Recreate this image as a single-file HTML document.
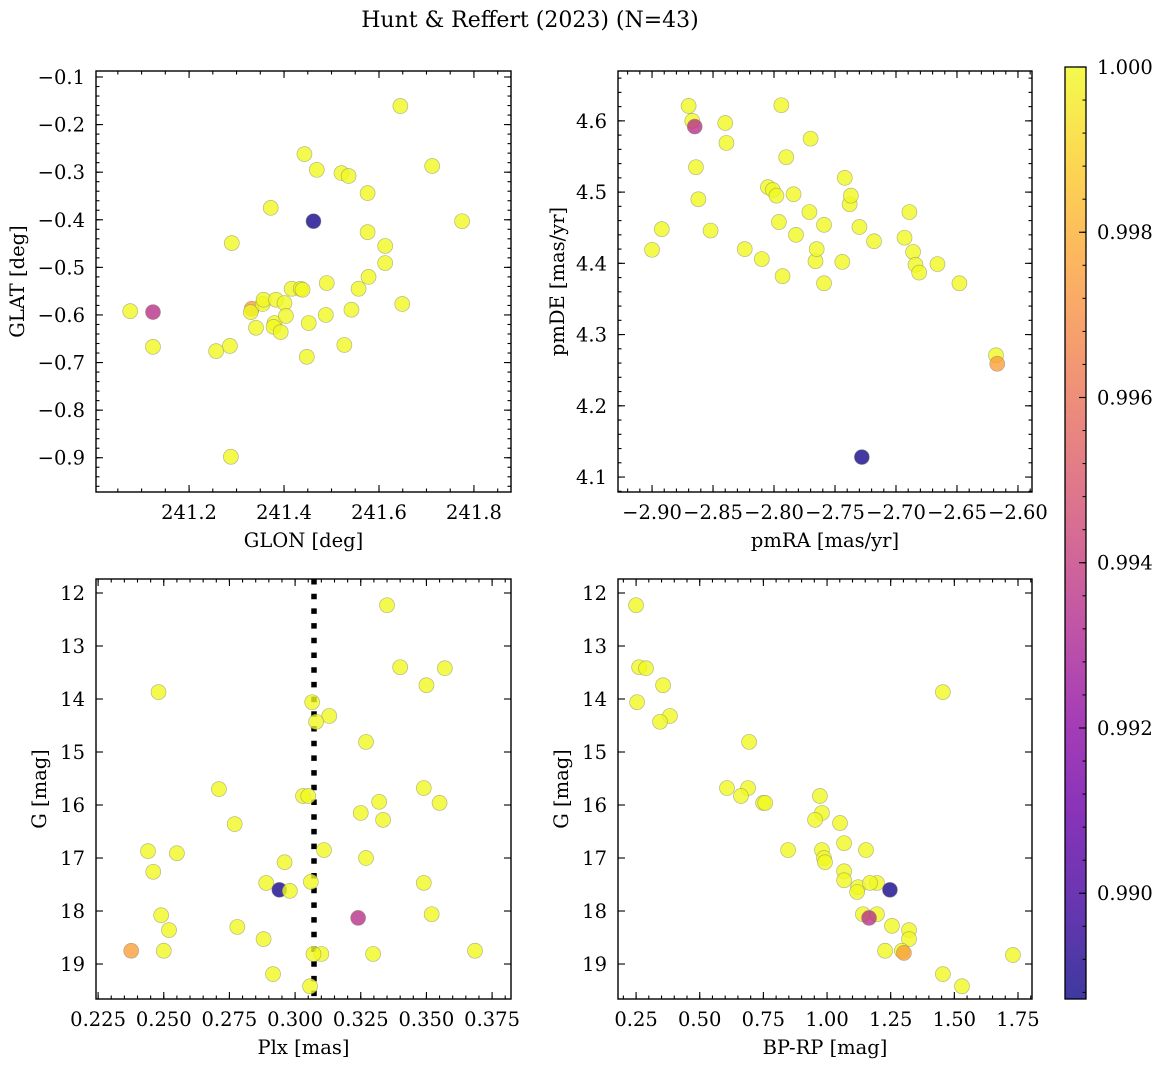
<!DOCTYPE html>
<html><head><meta charset="utf-8">
<style>
html,body{margin:0;padding:0;background:#fff;}
svg{display:block;font-family:"DejaVu Serif","Liberation Serif",serif;}
</style></head>
<body>
<svg id="fig" width="1161" height="1067" viewBox="0 0 1161 1067" xmlns="http://www.w3.org/2000/svg">
<text x="530" y="27" font-size="22" text-anchor="middle">Hunt &amp; Reffert (2023) (N=43)</text>
</svg>
<script>
// ---------- data ----------
const glon = [241.076,241.124,241.124,241.257,241.286,241.288,241.290,241.332,241.330,241.341,241.355,241.357,241.372,241.383,241.380,241.378,241.393,241.401,241.404,241.416,241.435,241.439,241.443,241.448,241.452,241.462,241.469,241.488,241.490,241.521,241.536,241.527,241.542,241.557,241.576,241.576,241.578,241.613,241.613,241.645,241.649,241.712,241.775];
const glat = [-0.592,-0.594,-0.667,-0.676,-0.665,-0.898,-0.449,-0.587,-0.594,-0.627,-0.577,-0.568,-0.375,-0.568,-0.617,-0.625,-0.636,-0.575,-0.602,-0.545,-0.545,-0.547,-0.262,-0.688,-0.617,-0.403,-0.295,-0.600,-0.533,-0.302,-0.308,-0.663,-0.589,-0.545,-0.344,-0.426,-0.520,-0.455,-0.491,-0.161,-0.577,-0.287,-0.403];
const prob1 = [1,0.9935,1,1,1,1,1,0.9975,1,1,1,1,1,1,1,1,1,1,1,1,1,1,1,1,1,0.9889,1,1,1,1,1,1,1,1,1,1,1,1,1,1,1,1,1];

const pmra = [-2.870,-2.867,-2.865,-2.864,-2.862,-2.900,-2.892,-2.852,-2.840,-2.839,-2.824,-2.810,-2.805,-2.801,-2.798,-2.794,-2.793,-2.790,-2.784,-2.782,-2.771,-2.770,-2.766,-2.765,-2.759,-2.759,-2.744,-2.742,-2.738,-2.737,-2.730,-2.728,-2.718,-2.693,-2.689,-2.686,-2.684,-2.681,-2.666,-2.648,-2.618,-2.617,-2.796];
const pmde = [4.621,4.600,4.592,4.535,4.490,4.419,4.448,4.446,4.597,4.569,4.420,4.406,4.507,4.503,4.495,4.622,4.382,4.549,4.497,4.440,4.472,4.575,4.403,4.420,4.372,4.454,4.402,4.520,4.483,4.495,4.451,4.128,4.431,4.436,4.472,4.416,4.398,4.387,4.399,4.372,4.271,4.259,4.458];
const prob2 = [1,1,0.9935,1,1,1,1,1,1,1,1,1,1,1,1,1,1,1,1,1,1,1,1,1,1,1,1,1,1,1,1,0.9889,1,1,1,1,1,1,1,1,1,0.9975,1];

const plx = [0.335,0.340,0.357,0.350,0.3065,0.313,0.248,0.308,0.327,0.349,0.271,0.303,0.305,0.355,0.332,0.325,0.3335,0.277,0.244,0.255,0.311,0.327,0.296,0.246,0.349,0.289,0.306,0.294,0.298,0.249,0.352,0.324,0.252,0.278,0.288,0.310,0.250,0.2376,0.3297,0.3685,0.2916,0.3057,0.307];
const gmag3 = [12.23,13.40,13.42,13.74,14.06,14.32,13.87,14.43,14.81,15.68,15.70,15.83,15.83,15.96,15.94,16.15,16.28,16.36,16.87,16.91,16.85,17.00,17.08,17.26,17.47,17.47,17.45,17.60,17.62,18.08,18.06,18.13,18.36,18.30,18.53,18.81,18.75,18.75,18.81,18.75,19.19,19.42,18.81];
const prob3 = [1,1,1,1,1,1,1,1,1,1,1,1,1,1,1,1,1,1,1,1,1,1,1,1,1,1,1,0.9889,1,1,1,0.9935,1,1,1,1,1,0.9975,1,1,1,1,1];

const bprp = [0.250,0.262,0.289,0.356,0.254,0.383,0.344,0.694,1.455,0.607,0.690,0.662,0.972,0.749,0.757,0.980,0.953,1.051,1.067,0.847,0.980,1.153,0.988,0.992,1.067,1.067,1.122,1.196,1.169,1.247,1.118,1.141,1.196,1.165,1.255,1.322,1.322,1.228,1.294,1.302,1.730,1.455,1.530];
const gmag4 = [12.23,13.40,13.42,13.74,14.06,14.32,14.43,14.81,13.87,15.68,15.68,15.83,15.83,15.96,15.96,16.15,16.28,16.34,16.72,16.85,16.85,16.85,17.00,17.08,17.25,17.42,17.55,17.47,17.47,17.60,17.64,18.06,18.06,18.13,18.28,18.36,18.53,18.75,18.75,18.79,18.83,19.19,19.42];
const prob4 = [1,1,1,1,1,1,1,1,1,1,1,1,1,1,1,1,1,1,1,1,1,1,1,1,1,1,1,1,1,0.9889,1,1,1,0.9935,1,1,1,1,1,0.9975,1,1,1];

const plxRef = [0.3072];
const cbTicks = [0.990,0.992,0.994,0.996,0.998,1.000];
const cbRange = [0.98872,1.0];

// ---------- helpers ----------
const NS = "http://www.w3.org/2000/svg";
const svg = document.getElementById('fig');
const FS = 19.5;
function mk(tag, attrs, parent){
  const e = document.createElementNS(NS, tag);
  for (const k in attrs) e.setAttribute(k, attrs[k]);
  (parent||svg).appendChild(e);
  return e;
}
const stops = ["#0d0887","#41049d","#6a00a8","#8f0da4","#b12a90","#cc4778","#e16462","#f2844b","#fca636","#fcce25","#f0f921"];
function hex(h){return [parseInt(h.substr(1,2),16),parseInt(h.substr(3,2),16),parseInt(h.substr(5,2),16)];}
function plasma(t){
  t=Math.max(0,Math.min(1,t));
  const f=t*10, i=Math.min(9,Math.floor(f)), r=f-i;
  const a=hex(stops[i]), b=hex(stops[i+1]);
  return "rgb("+a.map((v,k)=>Math.round(v+(b[k]-v)*r)).join(",")+")";
}
function cnorm(v){return (v-cbRange[0])/(cbRange[1]-cbRange[0]);}
function fmt(v,d){const s=v.toFixed(d);return s.replace("-","\u2212");}

function panel(o){
  const g = mk('g',{});
  
  
  const X = v => o.L + (v-o.xd[0])/(o.xd[1]-o.xd[0])*(o.R-o.L);
  const Y = v => o.B - (v-o.yd[0])/(o.yd[1]-o.yd[0])*(o.B-o.T);
  if (o.vline){
    o.vline.forEach(v=>{
      const l = mk('line',{x1:X(v),x2:X(v),y1:o.T,y2:o.B,stroke:'#000','stroke-width':5.5,'stroke-dasharray':'5.5 9.2'},g);
      
      
    });
  }
  o.xs.forEach((v,i)=>{
    const c = mk('circle',{cx:X(v),cy:Y(o.ys[i]),r:7.5,fill:plasma(cnorm(o.cs[i])),'fill-opacity':0.8,stroke:'#8a8a6a','stroke-opacity':0.6,'stroke-width':0.7},g);
    
    
  });
  const tk = mk('g',{stroke:'#000','stroke-width':1.1},g);
  const eps=1e-9;
  function steps(d,s){const a=[];for(let v=Math.ceil(d[0]/s-eps)*s; v<=d[1]+eps; v+=s)a.push(+v.toFixed(6));return a;}
  steps(o.xd,o.xminor).forEach(v=>{const x=X(v);mk('line',{x1:x,x2:x,y1:o.B,y2:o.B-3.5},tk);mk('line',{x1:x,x2:x,y1:o.T,y2:o.T+3.5},tk);});
  steps(o.yd,o.yminor).forEach(v=>{const y=Y(v);mk('line',{x1:o.L,x2:o.L+3.5,y1:y,y2:y},tk);mk('line',{x1:o.R,x2:o.R-3.5,y1:y,y2:y},tk);});
  o.xt.forEach(v=>{const x=X(v);mk('line',{x1:x,x2:x,y1:o.B,y2:o.B-7},tk);mk('line',{x1:x,x2:x,y1:o.T,y2:o.T+7},tk);
    const t=mk('text',{x:x,y:o.B+27,'font-size':FS,'text-anchor':'middle'},g);t.textContent=fmt(v,o.xdec);
    });
  o.yt.forEach(v=>{const y=Y(v);mk('line',{x1:o.L,x2:o.L+7,y1:y,y2:y},tk);mk('line',{x1:o.R,x2:o.R-7,y1:y,y2:y},tk);
    const t=mk('text',{x:o.L-11,y:y+7,'font-size':FS,'text-anchor':'end'},g);t.textContent=fmt(v,o.ydec);
    });
  const fr = mk('rect',{x:o.L,y:o.T,width:o.R-o.L,height:o.B-o.T,fill:'none',stroke:'#000','stroke-width':1.4},g);
  
  const xl = mk('text',{x:(o.L+o.R)/2,y:o.B+55,'font-size':FS,'text-anchor':'middle'},g);xl.textContent=o.xlabel;
  
  const yl = mk('text',{x:0,y:0,'font-size':FS,'text-anchor':'middle',transform:`translate(${o.ylx},${(o.T+o.B)/2}) rotate(-90)`},g);yl.textContent=o.ylabel;
  
}

panel({name:'glon-glat-panel',L:96,R:511,T:71,B:492,xd:[241.004,241.878],yd:[-0.972,-0.0874],
  xt:[241.2,241.4,241.6,241.8],yt:[-0.9,-0.8,-0.7,-0.6,-0.5,-0.4,-0.3,-0.2,-0.1],xminor:0.05,yminor:0.02,xdec:1,ydec:1,
  xs:glon,ys:glat,cs:prob1,xlabel:'GLON [deg]',ylabel:'GLAT [deg]',ylx:24});
panel({name:'pm-panel',L:618,R:1032,T:71,B:492,xd:[-2.9279,-2.5885],yd:[4.079,4.670],
  xt:[-2.90,-2.85,-2.80,-2.75,-2.70,-2.65,-2.60],yt:[4.1,4.2,4.3,4.4,4.5,4.6],xminor:0.01,yminor:0.02,xdec:2,ydec:1,
  xs:pmra,ys:pmde,cs:prob2,xlabel:'pmRA [mas/yr]',ylabel:'pmDE [mas/yr]',ylx:564});
panel({name:'plx-g-panel',L:96,R:511,T:579,B:999,xd:[0.2242,0.3822],yd:[19.66,11.736],
  xt:[0.225,0.250,0.275,0.300,0.325,0.350,0.375],yt:[12,13,14,15,16,17,18,19],xminor:0.005,yminor:0.2,xdec:3,ydec:0,
  xs:plx,ys:gmag3,cs:prob3,xlabel:'Plx [mas]',ylabel:'G [mag]',ylx:46,vline:plxRef});
panel({name:'cmd-panel',L:618,R:1032,T:579,B:999,xd:[0.179,1.805],yd:[19.66,11.736],
  xt:[0.25,0.50,0.75,1.00,1.25,1.50,1.75],yt:[12,13,14,15,16,17,18,19],xminor:0.05,yminor:0.2,xdec:2,ydec:0,
  xs:bprp,ys:gmag4,cs:prob4,xlabel:'BP-RP [mag]',ylabel:'G [mag]',ylx:568});

// ---------- colorbar ----------
(function(){
  const L=1065,R=1086,T=67,B=999;
  const g = mk('g',{});
  
  
  const defs = mk('defs',{},g);
  const lg = mk('linearGradient',{id:'cbg',x1:0,y1:1,x2:0,y2:0},defs);
  for(let i=0;i<=20;i++){mk('stop',{offset:i/20,'stop-color':plasma(i/20),'stop-opacity':0.8},lg);}
  mk('rect',{x:L,y:T,width:R-L,height:B-T,fill:'url(#cbg)'},g);
  const Y=v=>B-(v-cbRange[0])/(cbRange[1]-cbRange[0])*(B-T);
  for(let v=0.9888;v<=1.00001;v+=0.0004){const y=Y(v);if(y>=T&&y<=B)mk('line',{x1:R,x2:R-3.5,y1:y,y2:y,stroke:'#000','stroke-width':1},g);}
  cbTicks.forEach(v=>{const y=Y(v);mk('line',{x1:R,x2:R-7,y1:y,y2:y,stroke:'#000','stroke-width':1.1},g);
    const t=mk('text',{x:R+11,y:y+7,'font-size':FS},g);t.textContent=v.toFixed(3);
    });
  mk('rect',{x:L,y:T,width:R-L,height:B-T,fill:'none',stroke:'#000','stroke-width':1.3},g);
})();
</script>
</body></html>
